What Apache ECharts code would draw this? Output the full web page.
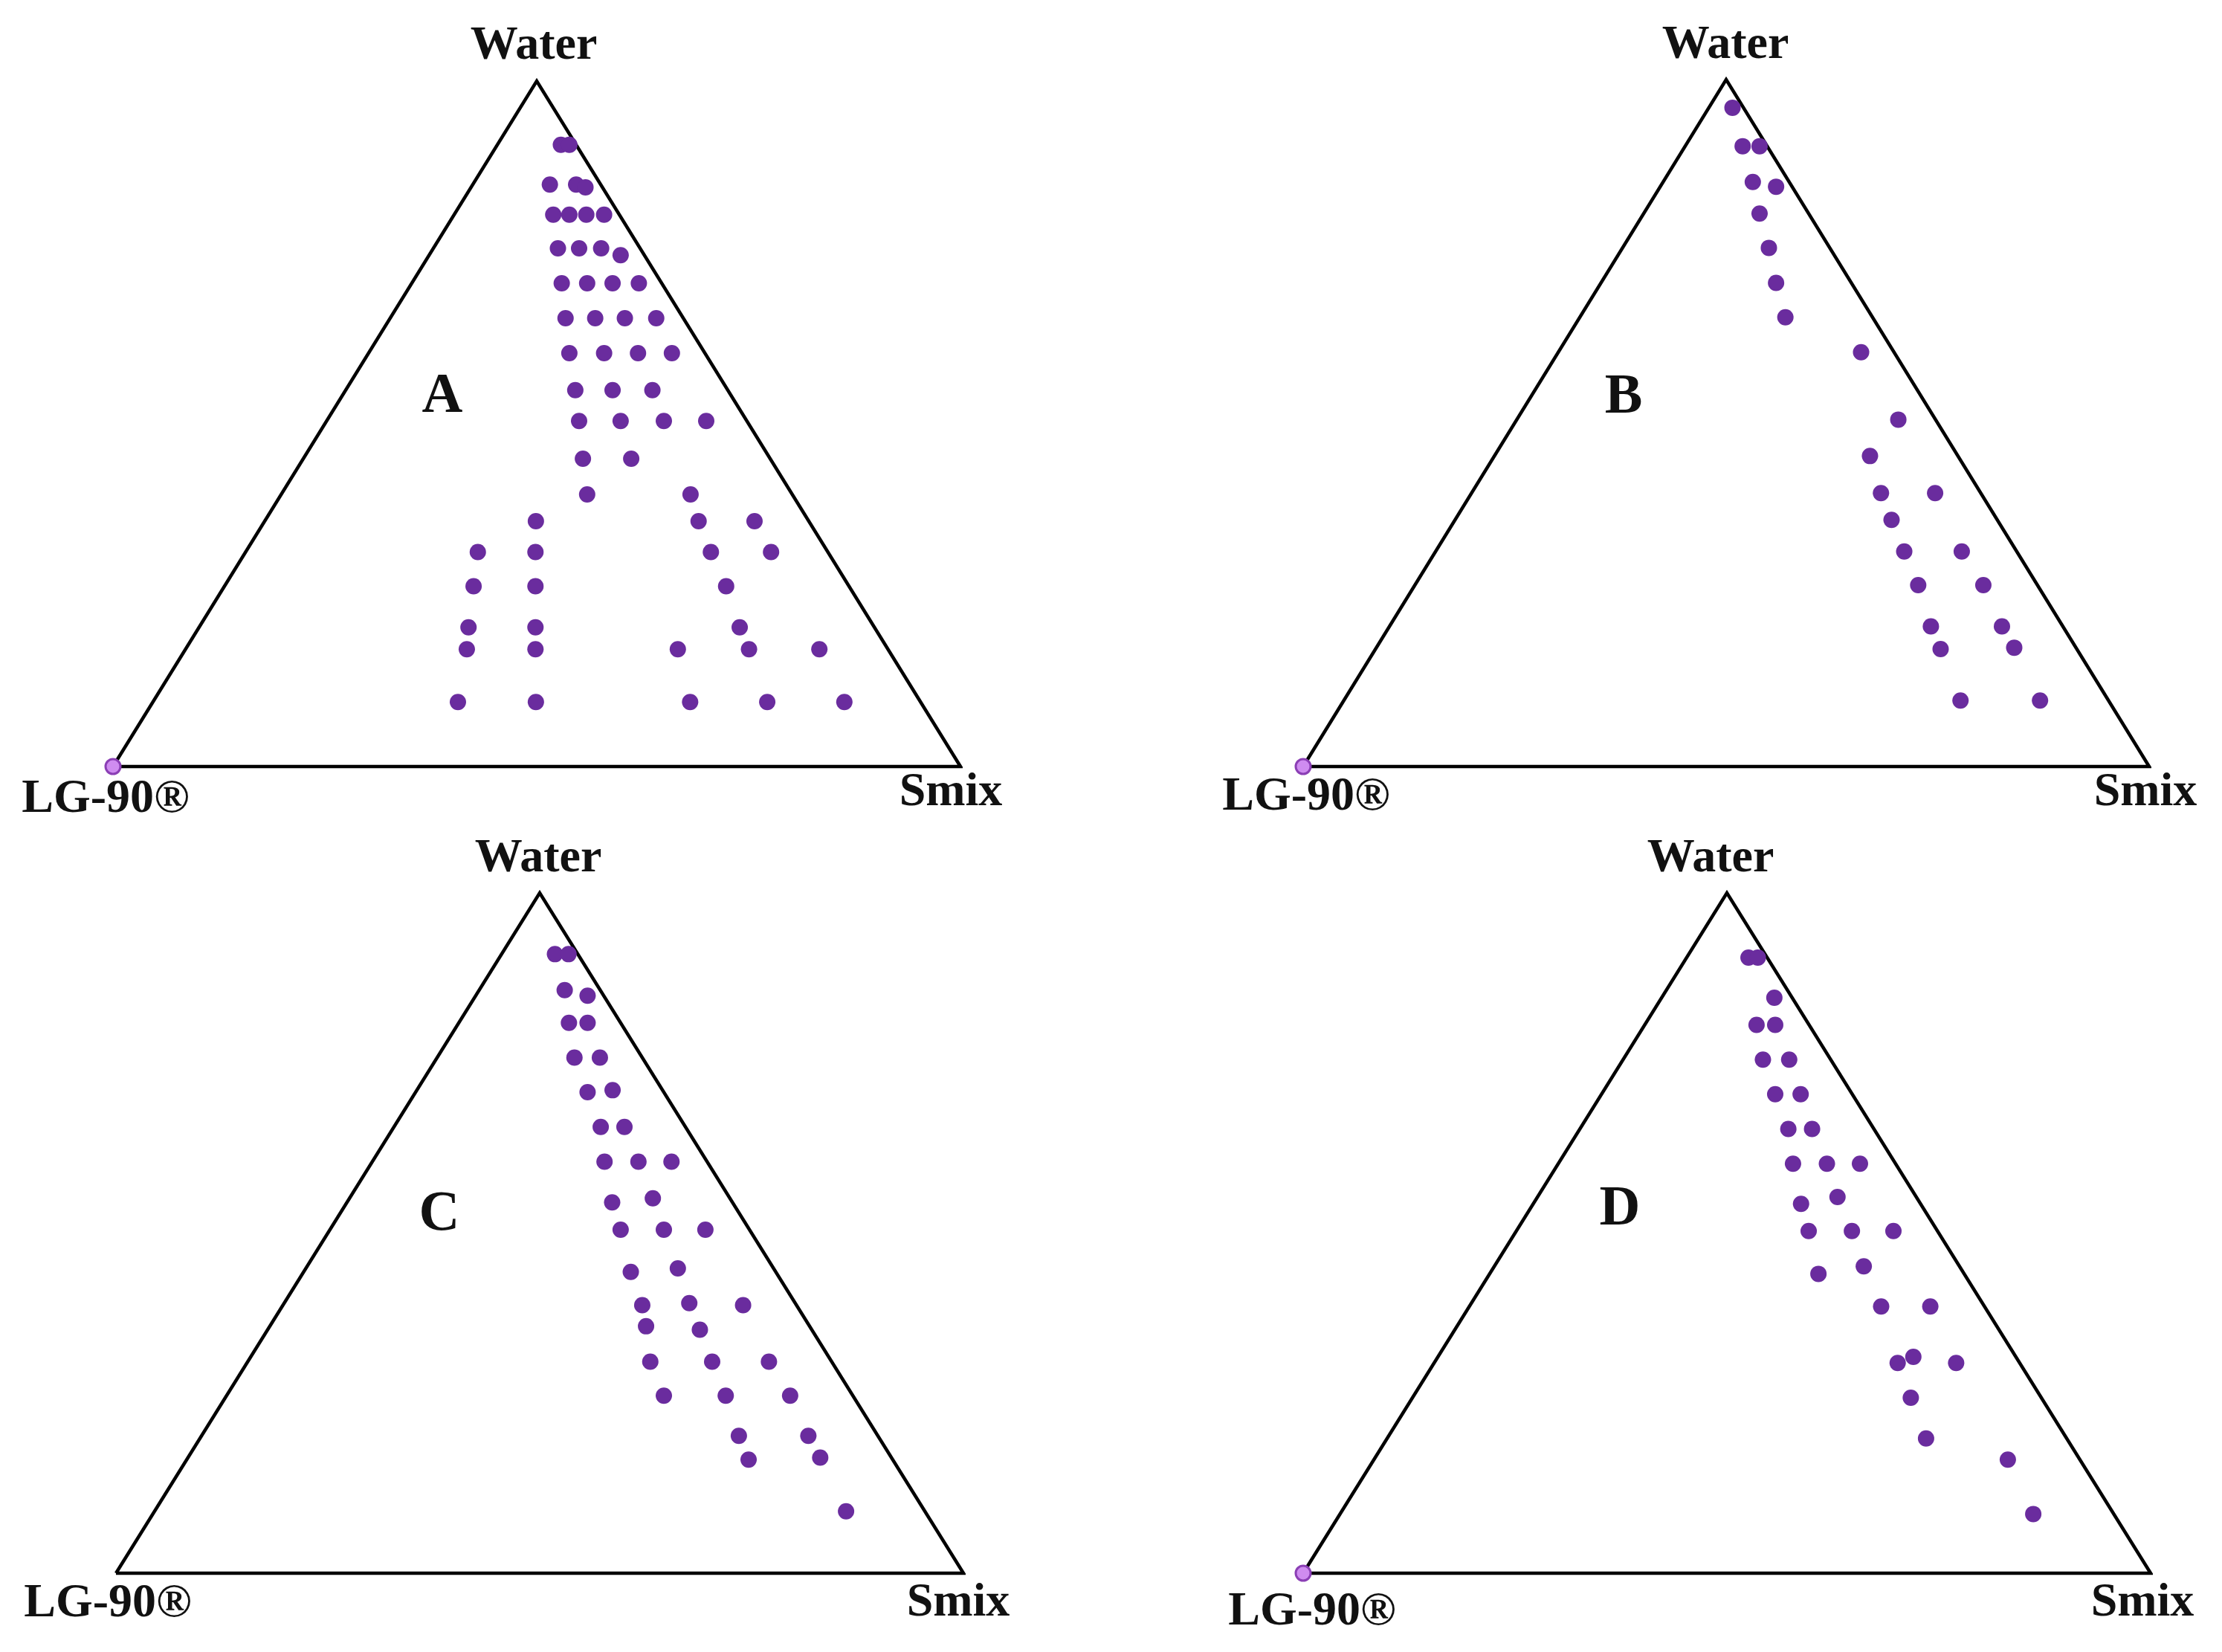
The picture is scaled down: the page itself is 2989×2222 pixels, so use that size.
<!DOCTYPE html>
<html>
<head>
<meta charset="utf-8">
<script src="https://cdn.jsdelivr.net/npm/echarts@6/dist/echarts.min.js"></script>
<style>
  html, body { margin: 0; padding: 0; background: #fff; }
  #chart { width: 2989px; height: 2222px; }
</style>
</head>
<body>
<div id="chart"></div>
<script>
// compositions in % (LG-90 = 100 - water - smix)
const waterA = [90.7, 90.7, 84.9, 84.9, 84.5, 80.5, 80.5, 80.5, 80.5, 75.6, 75.6, 75.6, 74.6, 70.5, 70.5, 70.5, 70.5, 65.4, 65.4, 65.4, 65.4, 60.3, 60.3, 60.3, 60.3, 54.9, 54.9, 54.9, 50.4, 50.4, 50.4, 50.4, 44.9, 44.9, 39.7, 39.7, 35.8, 35.8, 35.8, 31.3, 31.3, 31.3, 31.3, 26.3, 26.3, 26.3, 20.3, 20.3, 20.3, 17.1, 17.1, 17.1, 17.1, 17.1, 9.4, 9.4, 9.4, 9.4, 9.4]
const smixA = [7.5, 8.5, 9.1, 12.2, 13.5, 11.7, 13.6, 15.6, 17.7, 14.7, 17.2, 19.8, 22.6, 17.7, 20.7, 23.7, 26.8, 20.7, 24.2, 27.7, 31.4, 23.7, 27.8, 31.8, 35.8, 27.1, 31.5, 36.2, 29.8, 34.7, 39.8, 44.8, 33.0, 38.7, 36.1, 48.3, 32.0, 51.2, 57.8, 27.4, 34.2, 54.9, 62.0, 29.4, 36.7, 59.2, 31.8, 39.7, 63.8, 33.2, 41.3, 58.1, 66.5, 74.8, 36.0, 45.2, 63.4, 72.5, 81.6]

const waterB = [95.9, 90.3, 90.3, 85.1, 84.4, 80.5, 75.5, 70.4, 65.4, 60.3, 50.5, 45.2, 39.8, 39.8, 35.9, 31.3, 31.3, 26.4, 26.4, 20.4, 20.4, 17.1, 17.3, 9.6, 9.6]
const smixB = [2.8, 6.8, 8.8, 10.6, 13.7, 13.7, 17.3, 20.7, 24.3, 35.8, 45.1, 44.4, 48.4, 54.8, 51.6, 55.4, 62.2, 59.5, 67.2, 64.0, 72.4, 66.8, 75.4, 72.9, 82.3]

const waterC = [91.0, 91.0, 85.7, 84.9, 80.9, 80.9, 75.8, 75.8, 70.7, 71.0, 65.6, 65.6, 60.5, 60.5, 60.5, 54.5, 55.1, 50.5, 50.5, 50.5, 44.3, 44.8, 39.4, 39.7, 39.4, 36.3, 35.8, 31.1, 31.1, 31.1, 26.1, 26.1, 26.1, 20.2, 20.2, 16.7, 17.0, 9.1]
const smixC = [6.3, 7.9, 10.1, 13.2, 13.0, 15.2, 16.2, 19.2, 20.3, 23.1, 24.4, 27.2, 27.4, 31.4, 35.3, 31.3, 35.8, 34.3, 39.4, 44.3, 38.6, 43.9, 42.4, 47.8, 54.3, 44.4, 51.0, 47.5, 54.8, 61.5, 51.6, 58.9, 66.5, 63.4, 71.6, 66.3, 74.6, 81.6]

const waterD = [90.5, 90.5, 84.6, 80.6, 80.6, 75.5, 75.5, 70.4, 70.4, 65.3, 65.3, 60.2, 60.2, 60.2, 54.3, 55.3, 50.3, 50.3, 50.3, 44.0, 45.1, 39.2, 39.2, 30.9, 31.8, 30.9, 25.8, 19.8, 16.7, 8.7]
const smixD = [7.3, 8.4, 13.3, 13.2, 15.4, 16.5, 19.6, 20.5, 23.5, 24.6, 27.4, 27.7, 31.7, 35.6, 31.6, 35.4, 34.5, 39.6, 44.5, 38.8, 43.6, 48.6, 54.4, 54.7, 56.1, 61.6, 58.8, 63.6, 74.8, 81.8]

// corners of the diagram: [water, smix]
const cornerNames = ['LG-90®', 'Smix', 'Water']
const cornerWater = [0, 0, 100]
const cornerSmix = [0, 100, 0]

const panelNames = ['A', 'B', 'C', 'D']
const cornerMarked = [true, true, false, true] // LG-90 point shown on panel

const chart = echarts.init(document.getElementById('chart'))

// ternary -> cartesian inside the triangle
function toXY (w, s) {
  return [s + w / 2, w]
}

const waters = [waterA, waterB, waterC, waterD]
const smixes = [smixA, smixB, smixC, smixD]

const grids = [
  { left: 152, top: 109, width: 1140, height: 922 },
  { left: 1753, top: 107, width: 1138, height: 924 },
  { left: 156, top: 1201, width: 1140, height: 915 },
  { left: 1753, top: 1201, width: 1140, height: 915 }
]

const xAxes = []
const yAxes = []
const series = []
const graphics = []

grids.forEach((g, i) => {
  xAxes.push({ gridIndex: i, type: 'value', min: 0, max: 100, show: false })
  yAxes.push({ gridIndex: i, type: 'value', min: 0, max: 100, show: false })

  const outline = [0, 1, 2, 0].map(k => toXY(cornerWater[k], cornerSmix[k]))
  series.push({
    type: 'line',
    xAxisIndex: i,
    yAxisIndex: i,
    data: outline,
    symbol: 'none',
    clip: false,
    lineStyle: { color: '#000', width: 4.5, join: 'miter' },
    z: 2
  })

  series.push({
    type: 'scatter',
    xAxisIndex: i,
    yAxisIndex: i,
    data: waters[i].map((w, k) => toXY(w, smixes[i][k])),
    symbolSize: 22,
    clip: false,
    itemStyle: { color: '#6a2c9e', opacity: 1 },
    z: 3
  })

  if (cornerMarked[i]) {
    series.push({
      type: 'scatter',
      xAxisIndex: i,
      yAxisIndex: i,
      data: [toXY(cornerWater[0], cornerSmix[0])],
      symbolSize: 20,
      clip: false,
      itemStyle: { color: '#cf8cf0', borderColor: '#8b3fb5', borderWidth: 3, opacity: 1 },
      z: 4
    })
  }
})

const labelFont = { fontFamily: 'Liberation Serif', fontWeight: 'bold', fill: '#111', align: 'center', verticalAlign: 'middle' }
// label positions (px)
const labelPos = [
  { water: [718, 62], lg: [142, 1075], smix: [1279, 1066], name: [595, 534] },
  { water: [2321, 61], lg: [1757, 1072], smix: [2886, 1066], name: [2184, 535] },
  { water: [724, 1155], lg: [145, 2157], smix: [1289, 2156], name: [591, 1634] },
  { water: [2301, 1155], lg: [1765, 2168], smix: [2882, 2156], name: [2179, 1627] }
]
labelPos.forEach((p, i) => {
  graphics.push({ type: 'text', x: p.water[0], y: p.water[1], style: Object.assign({ text: cornerNames[2], fontSize: 64 }, labelFont) })
  graphics.push({ type: 'text', x: p.lg[0], y: p.lg[1], style: Object.assign({ text: cornerNames[0], fontSize: 64 }, labelFont) })
  graphics.push({ type: 'text', x: p.smix[0], y: p.smix[1], style: Object.assign({ text: cornerNames[1], fontSize: 64 }, labelFont) })
  graphics.push({ type: 'text', x: p.name[0], y: p.name[1], style: Object.assign({ text: panelNames[i], fontSize: 76 }, labelFont) })
})

chart.setOption({
  animation: false,
  backgroundColor: '#fff',
  grid: grids,
  xAxis: xAxes,
  yAxis: yAxes,
  series: series,
  graphic: graphics
})
</script>
</body>
</html>
